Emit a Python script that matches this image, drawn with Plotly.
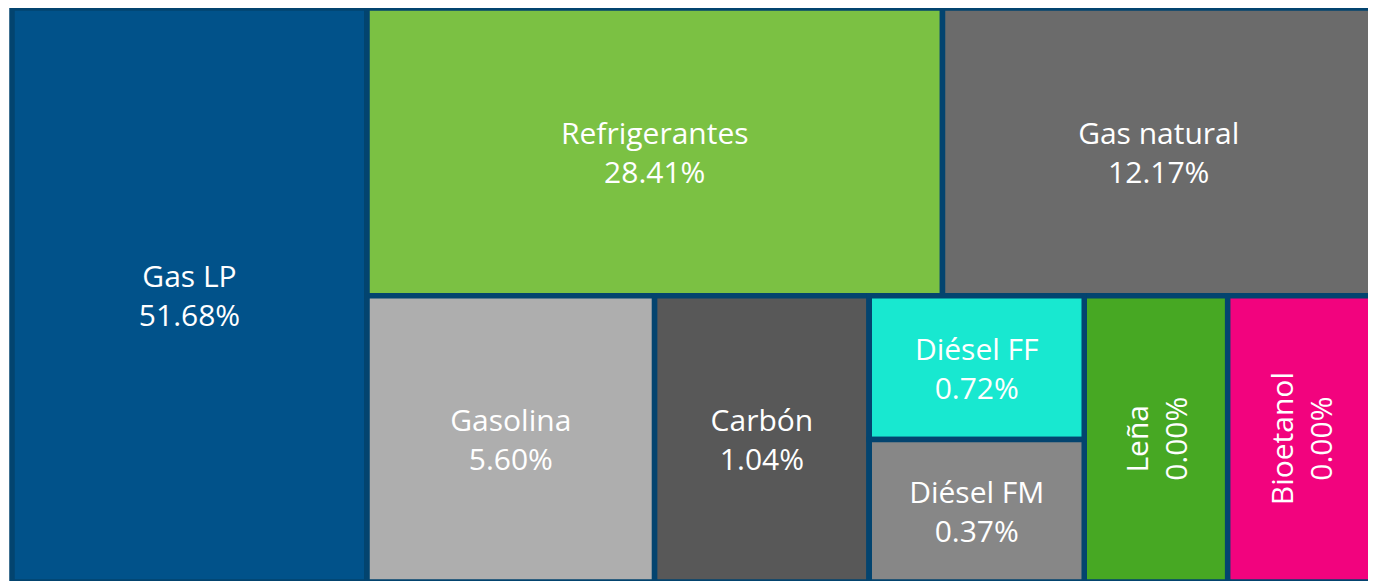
import plotly.graph_objects as go

# ---- data ----
categories = ["Gas LP", "Refrigerantes", "Gas natural", "Gasolina", "Carbón",
              "Diésel FF", "Diésel FM", "Leña", "Bioetanol"]
shares = [51.68, 28.41, 12.17, 5.60, 1.04, 0.72, 0.37, 0.00, 0.00]
# relative box areas as drawn in the reference (not proportional to shares)
box_area = [203.0, 165.0, 124.0, 82.0, 61.2, 30.8, 30.5, 40.9, 42.0]
groups = ["", "Superior", "Superior", "Inferior", "Inferior",
          "Diésel", "Diésel", "Inferior", "Inferior"]
colors = ["#01528A", "#7BC143", "#6B6B6B", "#AEAEAE", "#585858",
          "#18E8D0", "#878787", "#47A823", "#F2037E"]
rotated = ["Leña", "Bioetanol"]

# hidden grouping nodes (parent of each)
group_parent = {"Resto": "", "Superior": "Resto", "Inferior": "Resto", "Diésel": "Inferior"}

BORDER = "#03446F"
FONT = "Open Sans"
FSIZE = 30

ids, parents, values, node_colors, texts = [], [], [], [], []

added = set()
def ensure_group(g):
    if g == "" or g in added:
        return
    ensure_group(group_parent[g])
    ids.append(g); parents.append(group_parent[g]); values.append(0)
    node_colors.append(BORDER); texts.append("")
    added.add(g)

for i, c in enumerate(categories):
    if i == 1:
        ensure_group("Resto")
    ensure_group(groups[i])
    ids.append(c)
    parents.append(groups[i])
    values.append(box_area[i])
    node_colors.append(colors[i])
    texts.append("" if c in rotated else f"{c}<br>{shares[i]:.2f}%")

fig = go.Figure(go.Treemap(
    ids=ids, labels=ids, parents=parents, values=values,
    branchvalues="remainder", sort=False,
    text=texts, textinfo="text",
    textposition="middle center",
    textfont=dict(family=FONT, size=FSIZE, color="white", weight=500),
    marker=dict(colors=node_colors, line=dict(color=BORDER, width=5.5),
                pad=dict(t=0, l=0, r=0, b=0)),
    tiling=dict(packing="slice-dice", pad=0),
    pathbar=dict(visible=False),
    root=dict(color=BORDER),
    hoverinfo="skip",
))

# rotated labels for the narrow boxes, positioned from the same area weights
total = sum(box_area)
fx0 = box_area[0] / total
rest_total = total - box_area[0]
inf_idx = [i for i, g in enumerate(groups) if g in ("Inferior", "Diésel")]
inf_total = sum(box_area[i] for i in inf_idx)
bottom_units = []
seen_diesel = False
for i in inf_idx:
    if groups[i] == "Diésel":
        if not seen_diesel:
            bottom_units.append(("Diésel", sum(box_area[j] for j in inf_idx if groups[j] == "Diésel")))
            seen_diesel = True
    else:
        bottom_units.append((categories[i], box_area[i]))
cum = 0
for name, a in bottom_units:
    if name in rotated:
        k = categories.index(name)
        xc = fx0 + (1 - fx0) * (cum + a / 2) / inf_total
        yc = (inf_total / rest_total) / 2
        fig.add_annotation(x=xc, y=yc, xref="paper", yref="paper",
                           xanchor="center", yanchor="middle",
                           text=f"{name}<br>{shares[k]:.2f}%", textangle=-90,
                           showarrow=False,
                           font=dict(family=FONT, size=FSIZE, color="white", weight=500))
    cum += a

fig.update_layout(
    width=1376, height=581,
    margin=dict(l=4, r=9, t=0, b=7),
    paper_bgcolor="white",
    showlegend=False,
)

fig.write_html("out.html")
